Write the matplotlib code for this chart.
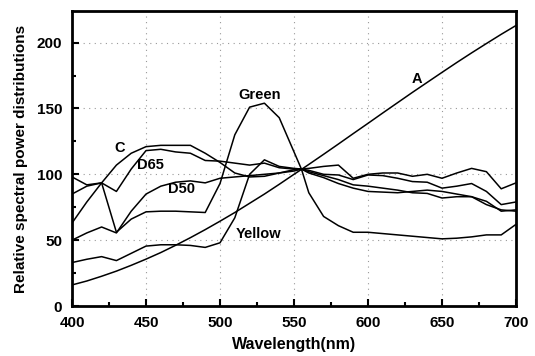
import matplotlib
matplotlib.use("Agg")
import matplotlib.pyplot as plt
from matplotlib.ticker import MultipleLocator

wavelength = [400, 410, 420, 430, 440, 450, 460, 470, 480, 490, 500, 510, 520, 530, 540, 550, 555,
              560, 570, 580, 590, 600, 610, 620, 630, 640, 650, 660, 670, 680, 690, 700]

illum_A = [16, 19, 22.6, 26.5, 30.9, 35.6, 40.6, 46.1, 51.9, 58, 64.4, 71, 78, 85, 92.4, 100, 103.7,
           107.5, 115.2, 123, 130.9, 138.7, 146.6, 154.4, 162.2, 169.8, 177.4, 184.9, 192.2, 199.3, 206.3, 213]
illum_C = [63, 79, 93.5, 107, 116, 121, 122, 122, 122, 116, 109, 101, 98, 98.5, 101, 103.5, 104,
           101, 97.5, 93, 89.5, 87, 86.5, 86, 87, 88, 87, 85, 83, 77, 73, 72]
illum_D65 = [85, 91, 93.5, 87, 104, 118, 119, 117, 116, 110.5, 110, 108.5, 107, 108.5, 105, 104, 104,
             102, 99, 96, 92, 91, 89.5, 88, 86, 85.5, 82, 83, 83, 79.5, 72, 73]
illum_D50 = [50, 55.5, 60, 55.5, 72, 85, 91, 94, 95, 93.5, 97, 98, 99, 100, 101, 102.5, 104,
             104.5, 106, 107, 97, 100, 101, 101, 98.5, 100, 97, 101, 104.5, 102, 89, 93.5]
green = [98, 92, 93.5, 56, 66, 71.5, 72, 72, 71.5, 71, 93, 130, 151, 154, 143, 117, 104,
         86, 68, 61, 56, 56, 55, 54, 53, 52, 51, 51.5, 52.5, 54, 54, 62]
yellow = [33, 35.5, 37.5, 34.5, 40, 45.5, 46.5, 46.5, 46, 44.5, 48, 67, 100, 111, 106, 104.5, 104,
          103, 100, 99.5, 96, 99.5, 99, 97, 94.5, 94, 89.5, 91, 93, 87, 77, 79]

series = [illum_A, illum_C, illum_D65, illum_D50, green, yellow]

label_text = ["A", "Green", "C", "D65", "D50", "Yellow"]
label_x = [633, 527, 432, 453, 474, 526]
label_y = [172, 160.5, 120, 107, 89, 54.5]

x_ticks = [400, 450, 500, 550, 600, 650, 700]
y_ticks = [0, 50, 100, 150, 200]

plt.rcParams['font.family'] = ['Liberation Sans', 'DejaVu Sans']

fig = plt.figure(figsize=(5.35, 3.56), dpi=100)
ax = fig.add_axes([0.1346, 0.1404, 0.8299, 0.8287])

for s in series:
    ax.plot(wavelength, s, color='black', linewidth=1.1)

for t, x, y in zip(label_text, label_x, label_y):
    ax.text(x, y, t, ha='center', va='center', fontsize=10.5, fontweight='bold', color='black')

ax.set_xlim(400, 700)
ax.set_ylim(0, 224)
ax.set_xticks(x_ticks)
ax.set_yticks(y_ticks)
ax.xaxis.set_minor_locator(MultipleLocator(25))
ax.yaxis.set_minor_locator(MultipleLocator(25))
ax.tick_params(which='both', direction='in', width=1.5, colors='black')
ax.tick_params(which='major', length=5, labelsize=11)
ax.tick_params(which='minor', length=3)
ax.tick_params(axis='x', which='major', pad=7)
ax.tick_params(axis='y', which='major', pad=7)
for lab in ax.get_xticklabels() + ax.get_yticklabels():
    lab.set_fontweight('bold')

ax.grid(True, which='major', color='#999999', linestyle=(0, (1, 4)), linewidth=0.8)
for sp in ax.spines.values():
    sp.set_linewidth(2)

ax.set_xlabel('Wavelength(nm)', fontsize=11.5, fontweight='bold', labelpad=5)
ax.set_ylabel('Relative spectral power distributions', fontsize=11, fontweight='bold', labelpad=6)

fig.savefig('out.png', dpi=100)
